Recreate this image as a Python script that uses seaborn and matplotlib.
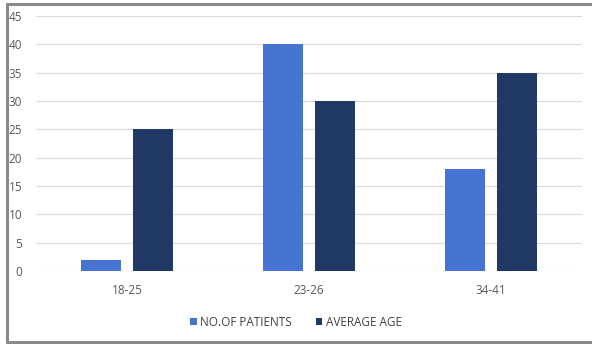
import matplotlib
matplotlib.use("Agg")
import matplotlib.pyplot as plt
from matplotlib.lines import Line2D
import seaborn as sns
import pandas as pd

age_groups = ["18-25", "23-26", "34-41"]
no_of_patients = [2, 40, 18]
average_age = [25, 30, 35]
series_names = ["NO.OF PATIENTS", "AVERAGE AGE"]
y_ticks = [0, 5, 10, 15, 20, 25, 30, 35, 40, 45]

df = pd.DataFrame({
    "group": age_groups * 2,
    "value": no_of_patients + average_age,
    "series": [series_names[0]] * 3 + [series_names[1]] * 3,
})

sns.set_theme(style="white")
plt.rcParams["font.family"] = ["Open Sans", "DejaVu Sans"]

fig = plt.figure(figsize=(5.92, 3.44), dpi=100)
ax = fig.add_axes([36 / 592, 73 / 344, 546 / 592, 255 / 344])

palette = {series_names[0]: "#4674D3", series_names[1]: "#1F3864"}
sns.barplot(data=df, x="group", y="value", hue="series", palette=palette,
            width=0.566, gap=0.22, saturation=1, ax=ax, legend=True,
            edgecolor="none")

ax.set_ylim(0, 45)
ax.set_xlim(-0.5, 2.5)
ax.set_yticks(y_ticks)
ax.set_xlabel("")
ax.set_ylabel("")
for s in ax.spines.values():
    s.set_visible(False)
ax.yaxis.grid(True, color="#DADADA", linewidth=0.8)
ax.set_axisbelow(True)
ax.tick_params(axis="both", length=0, labelsize=8.5, labelcolor="#595959")
ax.tick_params(axis="y", pad=10)
ax.tick_params(axis="x", pad=9)

handles, labels = ax.get_legend_handles_labels()
ax.legend_.remove()
fig.legend(handles, labels, loc="center", bbox_to_anchor=(0.5, 1 - 322 / 344),
           ncol=2, frameon=False, fontsize=8.5, labelcolor="#404040",
           handlelength=0.55, handleheight=0.55, handletextpad=0.3,
           columnspacing=2.0)

# Gray frame around the chart area
frame_kw = dict(color="#8A8A8A", linewidth=2.2, transform=fig.transFigure)
x0, y0, y1 = 7 / 592, 1 - 342 / 344, 1 - 4 / 344
fig.add_artist(Line2D([x0, x0], [y0, y1], **frame_kw))
fig.add_artist(Line2D([x0, 1.0], [y1, y1], **frame_kw))
fig.add_artist(Line2D([x0, 1.0], [y0, y0], **frame_kw))

fig.savefig("out.png", dpi=100, facecolor="white")
